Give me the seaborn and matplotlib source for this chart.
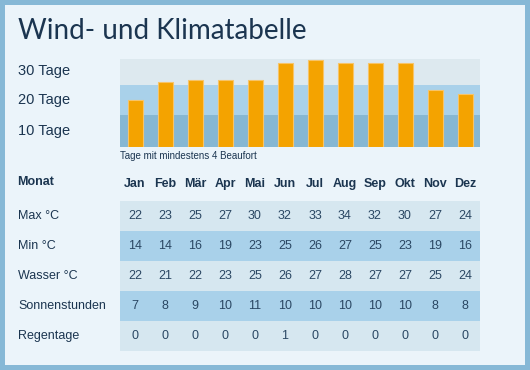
import numpy as np
import pandas as pd
import matplotlib
matplotlib.use("Agg")
import matplotlib.pyplot as plt
from matplotlib.colors import ListedColormap
from matplotlib.patches import Rectangle
import seaborn as sns

# ---------------- data ----------------
months = ["Jan", "Feb", "Mär", "Apr", "Mai", "Jun", "Jul", "Aug", "Sep", "Okt", "Nov", "Dez"]
wind_days = [16, 22, 22.7, 22.7, 22.7, 28.6, 29.7, 28.6, 28.6, 28.6, 19.4, 17.9]
wind_tick_pos = [26.5, 16.4, 5.9]
wind_tick_labels = ["30 Tage", "20 Tage", "10 Tage"]
band_edges = [0, 11, 21, 30]

row_labels = ["Max °C", "Min °C", "Wasser °C", "Sonnenstunden", "Regentage"]
max_temp = [22, 23, 25, 27, 30, 32, 33, 34, 32, 30, 27, 24]
min_temp = [14, 14, 16, 19, 23, 25, 26, 27, 25, 23, 19, 16]
water_temp = [22, 21, 22, 23, 25, 26, 27, 28, 27, 27, 25, 24]
sun_hours = [7, 8, 9, 10, 11, 10, 10, 10, 10, 10, 8, 8]
rain_days = [0, 0, 0, 0, 0, 1, 0, 0, 0, 0, 0, 0]

# ---------------- style ----------------
sns.set_style("white")
plt.rcParams["font.family"] = ["Liberation Sans", "DejaVu Sans"]

BORDER = "#86b8d6"
PANEL = "#ebf4fa"
BAND_TOP = "#dde9ef"
BAND_MID = "#a9d1ea"
BAND_LOW = "#86b7d3"
ROW_LIGHT = "#d6e7f0"
ROW_BLUE = "#a9d1ea"
TEXT = "#1b3550"
NUM = "#2a4763"
BAR = "#f4a300"
BAR_EDGE = "#f7c468"

W, H = 530, 370
fig = plt.figure(figsize=(W / 100, H / 100), dpi=100, facecolor=BORDER)

def px_rect(x0, y0, x1, y1):
    return [x0 / W, 1 - y1 / H, (x1 - x0) / W, (y1 - y0) / H]

fig.patches.append(Rectangle((5 / W, 5 / H), 520 / W, 360 / H, transform=fig.transFigure,
                             facecolor=PANEL, edgecolor="none", zorder=-10))

fig.text(18 / W, 1 - 31 / H, "Wind- und Klimatabelle", family=["Lato", "DejaVu Sans"],
         fontsize=20, color=TEXT, va="center", ha="left")

# ---------------- wind chart ----------------
ax = fig.add_axes(px_rect(120, 58.7, 480, 147.3))
ax.set_facecolor(PANEL)
band_colors = [BAND_LOW, BAND_MID, BAND_TOP]
for (lo, hi), c in zip(zip(band_edges[:-1], band_edges[1:]), band_colors):
    ax.axhspan(lo, hi, color=c, zorder=0, lw=0)

df = pd.DataFrame({"Monat": months, "Tage": wind_days})
sns.barplot(data=df, x="Monat", y="Tage", color=BAR, width=0.5, ax=ax,
            edgecolor=BAR_EDGE, linewidth=0.8, saturation=1, zorder=2)
ax.set_xlim(-0.5, len(months) - 0.5)
ax.set_ylim(0, band_edges[-1])
ax.set_xlabel("")
ax.set_ylabel("")
ax.set_xticks([])
ax.set_yticks(wind_tick_pos)
ax.set_yticklabels(wind_tick_labels, fontsize=10.5, color=TEXT, ha="left")
ax.tick_params(axis="y", length=0, pad=102 * 0.72)
for s in ax.spines.values():
    s.set_visible(False)

fig.text(120 / W, 1 - 156 / H, "Tage mit mindestens 4 Beaufort", fontsize=7,
         color=TEXT, va="center", ha="left")

# ---------------- climate table ----------------
vals = np.array([max_temp, min_temp, water_temp, sun_hours, rain_days])
stripe = np.array([[i % 2] * len(months) for i in range(len(row_labels))])
axt = fig.add_axes(px_rect(120, 201, 480, 351))
sns.heatmap(stripe, annot=vals, fmt="d", cmap=ListedColormap([ROW_LIGHT, ROW_BLUE]),
            cbar=False, ax=axt, vmin=0, vmax=1, linewidths=0,
            xticklabels=months, yticklabels=row_labels,
            annot_kws=dict(fontsize=9, color=NUM))
axt.xaxis.tick_top()
axt.set_xticklabels(months, rotation=0, fontsize=9, fontweight="bold", color=TEXT)
axt.set_yticklabels(row_labels, rotation=0, fontsize=9, color=TEXT, ha="left")
axt.tick_params(axis="x", length=0, pad=8.0)
axt.tick_params(axis="y", length=0, pad=102 * 0.72)

fig.text(17.5 / W, 1 - 182 / H, "Monat", fontsize=9, fontweight="bold", color=TEXT,
         va="center", ha="left")

fig.savefig("out.png", dpi=100, facecolor=BORDER)
